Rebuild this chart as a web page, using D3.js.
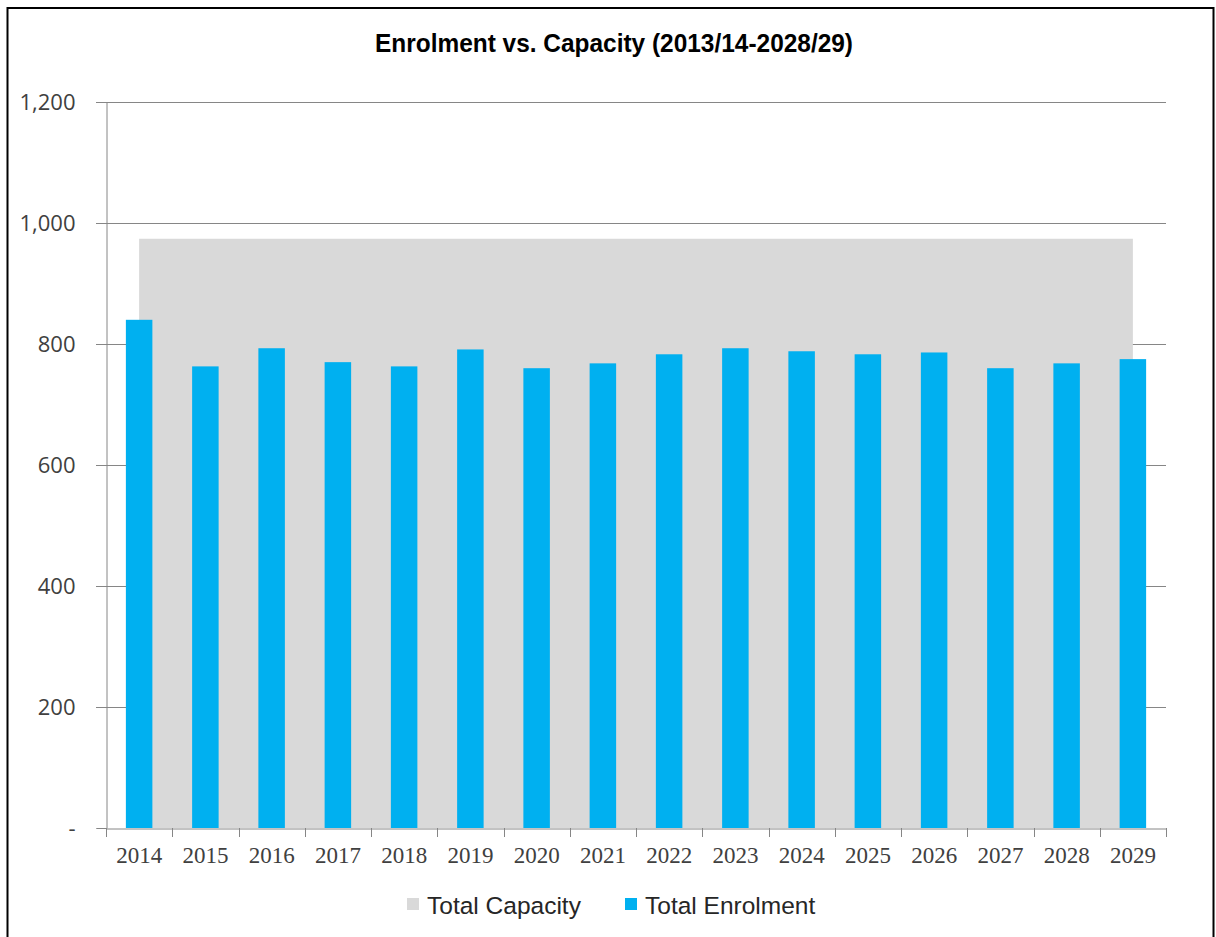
<!DOCTYPE html>
<html>
<head>
<meta charset="utf-8">
<script src="https://cdn.jsdelivr.net/npm/d3@7"></script>
<style>
  html, body { margin: 0; padding: 0; background: #fff; }
  svg { display: block; }
</style>
</head>
<body>
<svg id="chart" width="1216" height="937"></svg>
<script>
const categories = ["2014","2015","2016","2017","2018","2019","2020","2021","2022","2023","2024","2025","2026","2027","2028","2029"];
const enrolment = [840, 763, 793, 770, 763, 791, 760, 768, 783, 793, 788, 783, 786, 760, 768, 775];
const capacity = [974, 974, 974, 974, 974, 974, 974, 974, 974, 974, 974, 974, 974, 974, 974, 974];
const yTicks = [0, 200, 400, 600, 800, 1000, 1200];
const yTickLabels = ["-", "200", "400", "600", "800", "1,000", "1,200"];
const seriesNames = ["Total Capacity", "Total Enrolment"];
const titleText = "Enrolment vs. Capacity (2013/14-2028/29)";

const svg = d3.select("#chart");
const m = { left: 106, right: 1166, top: 102, bottom: 828 };

const x = d3.scaleBand().domain(categories).range([m.left, m.right]).paddingInner(0).paddingOuter(0);
const y = d3.scaleLinear().domain([0, 1200]).range([m.bottom, m.top]);
const bw = x.bandwidth();

// chart border
svg.append("rect").attr("x", 7.5).attr("y", 8).attr("width", 1206).attr("height", 940)
  .attr("fill", "none").attr("stroke", "#000").attr("stroke-width", 2);

// title
svg.append("text").attr("x", 375).attr("y", 52)
  .attr("font-family", "Liberation Sans, Arial, sans-serif").attr("font-weight", "bold")
  .attr("font-size", 26).attr("fill", "#000")
  .attr("textLength", 478).attr("lengthAdjust", "spacingAndGlyphs")
  .text(titleText);

// gridlines
svg.append("g").selectAll("line").data(yTicks.filter(d => d > 0)).join("line")
  .attr("x1", m.left - 10).attr("x2", m.right)
  .attr("y1", d => Math.round(y(d)) + 0.5).attr("y2", d => Math.round(y(d)) + 0.5)
  .attr("stroke", "#868686").attr("stroke-width", 1);

// capacity area
const area = d3.area()
  .x((d, i) => x(categories[i]) + bw / 2)
  .y0(y(0)).y1(d => y(d));
svg.append("path").datum(capacity).attr("d", area).attr("fill", "#D9D9D9");

// enrolment bars
svg.append("g").selectAll("rect").data(enrolment).join("rect")
  .attr("x", (d, i) => x(categories[i]) + bw * 0.3)
  .attr("width", bw * 0.4)
  .attr("y", d => y(d))
  .attr("height", d => y(0) - y(d))
  .attr("fill", "#00B0F0");

// y axis
const yAxis = d3.axisLeft(y).tickValues(yTicks).tickSize(10).tickPadding(20)
  .tickFormat((d, i) => yTickLabels[i]);
const gy = svg.append("g").attr("transform", `translate(${m.left + 0.5},0)`).call(yAxis);
gy.select(".domain").attr("stroke", "#868686");
gy.selectAll(".tick line").attr("stroke", "#868686");
gy.selectAll(".tick text").attr("font-family", "Open Sans, sans-serif").attr("font-size", 22)
  .attr("fill", "#404040").attr("x", -31);

// x axis
const xAxis = d3.axisBottom(x).tickSize(0).tickPadding(18);
const gx = svg.append("g").attr("transform", `translate(0,${m.bottom + 0.5})`).call(xAxis);
gx.select(".domain").attr("stroke", "#868686");
gx.selectAll(".tick text").attr("font-family", "Liberation Serif, serif").attr("font-size", 23)
  .attr("fill", "#404040");
// category boundary ticks
const bounds = categories.map(c => x(c)).concat([x(categories[categories.length - 1]) + bw]);
svg.append("g").selectAll("line").data(bounds).join("line")
  .attr("x1", d => Math.round(d) + 0.5).attr("x2", d => Math.round(d) + 0.5)
  .attr("y1", m.bottom).attr("y2", m.bottom + 9)
  .attr("stroke", "#868686");

// legend
const legendColors = ["#D9D9D9", "#00B0F0"];
const legendX = [407, 625];
const lg = svg.append("g");
seriesNames.forEach((name, i) => {
  lg.append("rect").attr("x", legendX[i]).attr("y", 898).attr("width", 12).attr("height", 12)
    .attr("fill", legendColors[i]);
  lg.append("text").attr("x", legendX[i] + 20).attr("y", 914)
    .attr("font-family", "Liberation Sans, Arial, sans-serif").attr("font-size", 24.5)
    .attr("fill", "#262626").text(name);
});
</script>
</body>
</html>
